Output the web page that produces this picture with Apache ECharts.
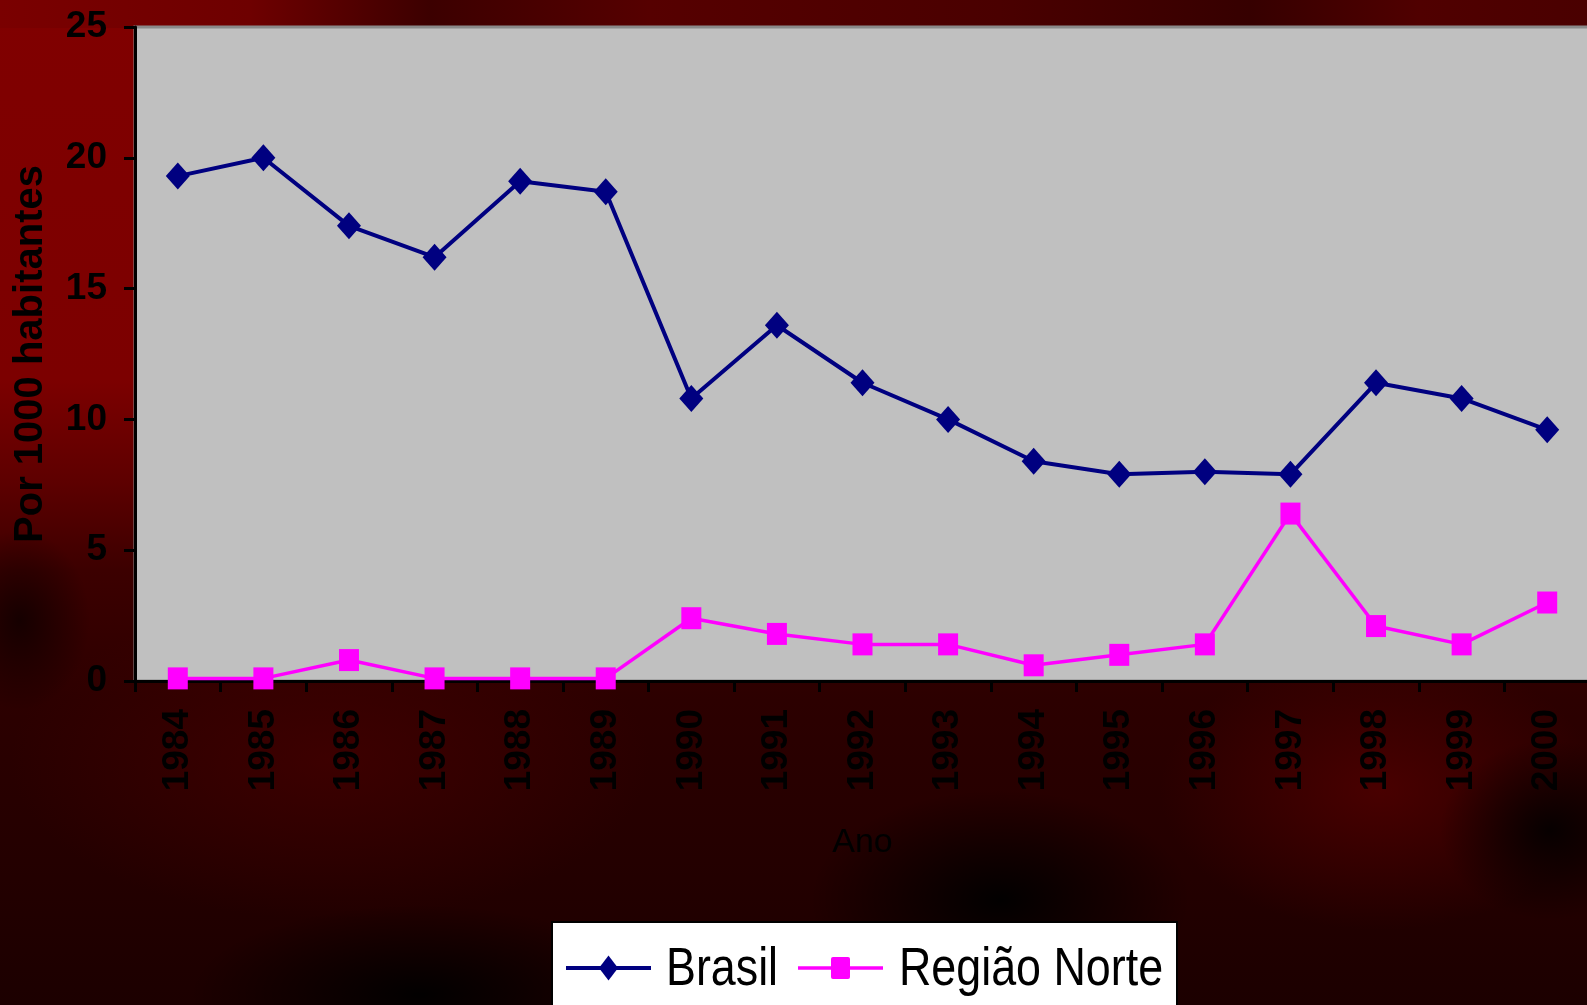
<!DOCTYPE html>
<html>
<head>
<meta charset="utf-8">
<script src="https://cdn.jsdelivr.net/npm/echarts@6/dist/echarts.min.js"></script>
<style>
  html, body { margin: 0; padding: 0; width: 1587px; height: 1005px; overflow: hidden; }
  #bg {
    position: absolute; left: 0; top: 0; width: 1587px; height: 1005px;
    background:
      linear-gradient(to right, #7a0000 0px, #6e0000 250px, #3c0000 430px, #560000 650px, #4a0000 1000px, #360000 1250px, #500000 1420px, #4a0000 1587px) 0 0 / 1587px 28px no-repeat,
      radial-gradient(ellipse 190px 110px at 1000px 900px, rgba(0,0,0,0.95), rgba(0,0,0,0) 100%),
      radial-gradient(ellipse 230px 90px at 420px 995px, rgba(0,0,0,0.95), rgba(0,0,0,0) 100%),
      radial-gradient(ellipse 110px 90px at 1550px 830px, rgba(0,0,0,0.85), rgba(0,0,0,0) 100%),
      radial-gradient(ellipse 70px 90px at 20px 620px, rgba(0,0,0,0.6), rgba(0,0,0,0) 100%),
      radial-gradient(ellipse 220px 140px at 1380px 790px, rgba(100,0,0,0.55), rgba(100,0,0,0) 100%),
      radial-gradient(ellipse 320px 160px at 330px 760px, rgba(80,0,0,0.5), rgba(80,0,0,0) 100%),
      linear-gradient(to bottom, #800000 0px, #7c0000 380px, #5e0000 480px, #3c0000 570px, #2c0000 700px, #240000 860px, #1c0000 1005px);
  }
  #chart { position: absolute; left: 0; top: 0; width: 1587px; height: 1005px; }
</style>
</head>
<body>
<div id="bg"></div>
<div id="chart"></div>
<script>
// Taxa anual por 1000 habitantes, 1984–2000
const anos = ['1984', '1985', '1986', '1987', '1988', '1989', '1990', '1991', '1992',
              '1993', '1994', '1995', '1996', '1997', '1998', '1999', '2000'];
const brasil = [19.3, 20.0, 17.4, 16.2, 19.1, 18.7, 10.8, 13.6, 11.4,
                10.0, 8.4, 7.9, 8.0, 7.9, 11.4, 10.8, 9.6];
const regiaoNorte = [0.1, 0.1, 0.8, 0.1, 0.1, 0.1, 2.4, 1.8, 1.4,
                     1.4, 0.6, 1.0, 1.4, 6.4, 2.1, 1.4, 3.0];
const yTicks = [0, 5, 10, 15, 20, 25];
const seriesNames = ['Brasil', 'Região Norte'];
const seriesColors = ['#000080', '#ff00ff'];

const font = "'Liberation Sans', Arial, sans-serif";

const chart = echarts.init(document.getElementById('chart'), null, { renderer: 'canvas' });

// Legend box drawn as graphic elements so the condensed lettering can be reproduced
const legendY = 968;
function legendEntry(lineX, symbol, symSize, textX, name, color, lineW) {
  const cx = lineX + 42.5;
  return [
    { type: 'line', z: 11, shape: { x1: lineX, y1: legendY, x2: lineX + 85, y2: legendY },
      style: { stroke: color, lineWidth: lineW } },
    symbol === 'diamond'
      ? { type: 'polygon', z: 12, shape: { points: [
            [cx, legendY - symSize[1] / 2], [cx + symSize[0] / 2, legendY],
            [cx, legendY + symSize[1] / 2], [cx - symSize[0] / 2, legendY]] },
          style: { fill: color } }
      : { type: 'rect', z: 12, shape: { x: cx - symSize[0] / 2, y: legendY - symSize[1] / 2,
            width: symSize[0], height: symSize[1], r: 2 }, style: { fill: color } },
    { type: 'text', z: 12, x: textX, y: legendY + 2, scaleX: 0.83,
      style: { text: name, x: 0, y: 0, fill: '#000', font: '54px ' + font,
               verticalAlign: 'middle', align: 'left' } }
  ];
}

chart.setOption({
  backgroundColor: 'transparent',
  animation: false,
  grid: {
    left: 135, right: -3, top: 27, bottom: 324,
    containLabel: false,
    outerBoundsMode: 'none',
    show: true,
    backgroundColor: '#c0c0c0',
    borderColor: '#8a8a8a',
    borderWidth: 3
  },
  xAxis: {
    type: 'category',
    data: anos,
    boundaryGap: true,
    name: 'Ano',
    nameLocation: 'middle',
    nameGap: 145,
    nameTextStyle: { color: '#000', fontFamily: font, fontSize: 34, fontWeight: 'normal' },
    axisLine: { lineStyle: { color: '#000', width: 3 } },
    axisTick: { show: true, alignWithLabel: false, interval: 0, length: 11, lineStyle: { color: '#000', width: 3 } },
    axisLabel: {
      interval: 0, rotate: 90, margin: 28,
      color: '#000', fontFamily: font, fontSize: 37, fontWeight: 'bold'
    },
    splitLine: { show: false }
  },
  yAxis: {
    type: 'value',
    min: yTicks[0],
    max: yTicks[yTicks.length - 1],
    interval: yTicks[1] - yTicks[0],
    name: 'Por 1000 habitantes',
    nameLocation: 'middle',
    nameRotate: 90,
    nameGap: 84,
    nameTextStyle: { color: '#000', fontFamily: font, fontSize: 40, fontWeight: 'bold' },
    axisLine: { show: true, lineStyle: { color: '#000', width: 3 } },
    axisTick: { show: true, length: 11, lineStyle: { color: '#000', width: 3 } },
    axisLabel: { margin: 28, color: '#000', fontFamily: font, fontSize: 37, fontWeight: 'bold' },
    splitLine: { show: false }
  },
  graphic: [
    { type: 'rect', z: 10, shape: { x: 552, y: 922, width: 625, height: 110 },
      style: { fill: '#ffffff', stroke: '#000', lineWidth: 2 } },
    ...legendEntry(566, 'diamond', [19, 25], 666, seriesNames[0], seriesColors[0], 4),
    ...legendEntry(798, 'rect', [19, 22], 899, seriesNames[1], seriesColors[1], 3.5)
  ],
  series: [
    {
      name: seriesNames[0],
      type: 'line',
      data: brasil,
      symbol: 'diamond',
      symbolSize: [24, 27],
      lineStyle: { color: seriesColors[0], width: 4 },
      itemStyle: { color: seriesColors[0] },
      z: 3
    },
    {
      name: seriesNames[1],
      type: 'line',
      data: regiaoNorte,
      symbol: 'rect',
      symbolSize: [20, 22],
      lineStyle: { color: seriesColors[1], width: 3.5 },
      itemStyle: { color: seriesColors[1] },
      clip: false,
      z: 4
    }
  ]
});
</script>
</body>
</html>
